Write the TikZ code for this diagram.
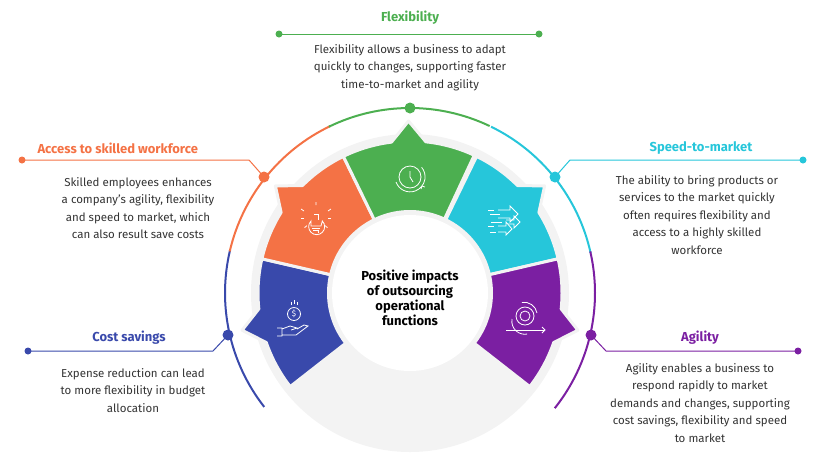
\documentclass[tikz,border=0pt]{standalone}
\usepackage{fontspec}
\setmainfont{Fira Sans}
\begin{document}
\begin{tikzpicture}[x=1pt,y=-1pt]
\definecolor{cO}{HTML}{F47245}
\definecolor{cG}{HTML}{4CAF50}
\definecolor{cC}{HTML}{26C6DA}
\definecolor{cP}{HTML}{7B1FA2}
\definecolor{cB}{HTML}{3949AB}
\definecolor{txt}{HTML}{333333}
\definecolor{bg}{HTML}{F3F3F3}
\tikzset{ttl/.style={font=\fontsize{13}{15}\selectfont\bfseries},
 desc/.style={font=\fontsize{11.5}{17.5}\selectfont,text=txt,align=center,inner sep=0},
 lead/.style={line width=1pt},
 ico/.style={draw=white,line width=0.8pt}}
\useasboundingbox (0,0) rectangle (830,467);
\begin{scope}[shift={(410,293)},y=1pt]
\fill[bg] (0,0) circle (159);
\foreach \a/\c in {218/cB,167/cO,116/cG,64/cC,13/cP}{
 \pgfmathsetmacro{\b}{\a-51}\pgfmathsetmacro{\m}{\a-25.5}
 \filldraw[fill=\c,draw=bg,line width=3pt,line join=round]
 (\a:78) -- (\a:152) arc[start angle=\a,end angle=\m+6.5,radius=152] -- (\m:172) -- (\m-6.5:152)
 arc[start angle=\m-6.5,end angle=\b,radius=152] -- (\b:78) arc[start angle=\b,end angle=\a,radius=78] -- cycle;
}
\fill[bg] (0,0) circle (83);
\fill[white] (0,0) circle (78);
\foreach \a/\c in {218/cB,167/cO,116/cG,64/cC,13/cP}{
 \draw[\c,line width=2pt] (\a:185) arc[start angle=\a,end angle=\a-51.5,radius=185];}
\end{scope}
\node[ttl,align=center] (ctr) at (410,298) {Positive impacts\\of outsourcing\\operational\\functions};
% dots
\foreach \n/\p/\c in {dG/{(410,108)}/cG,dO/{(264,177)}/cO,dC/{(555,177)}/cC,dB/{(228,335)}/cB,dP/{(591,335)}/cP}
 \fill[\c] \p circle (5.5) coordinate (\n);
% leaders
\coordinate (eO) at (22,160); \coordinate (eC) at (803,160);
\coordinate (eB) at (28,351); \coordinate (eP) at (798,351);
\coordinate (g1) at (279,34); \coordinate (g2) at (539,34);
\draw[lead,cO] (dO) -- (249,160) -- (eO); \fill[cO] (eO) circle (3.5);
\draw[lead,cC] (dC) -- (570,160) -- (eC); \fill[cC] (eC) circle (3.5);
\draw[lead,cB] (dB) -- (213,351) -- (eB); \fill[cB] (eB) circle (3.5);
\draw[lead,cP] (dP) -- (606,351) -- (eP); \fill[cP] (eP) circle (3.5);
\draw[lead,cG] (g1) -- (g2); \fill[cG] (g1) circle (3.5); \fill[cG] (g2) circle (3.5);
% texts
\node[ttl,text=cG] (tG) at (410,18) {Flexibility};
\node[desc,anchor=north] (xG) at (410,44) {Flexibility allows a business to adapt\\quickly to changes, supporting faster\\time-to-market and agility};
\node[ttl,text=cO,anchor=west] (tO) at (34,148) {Access to skilled workforce};
\node[desc,anchor=north] (xO) at (138,177) {Skilled employees enhances\\a company's agility, flexibility\\and speed to market, which\\can also result save costs};
\node[ttl,text=cC] (tC) at (701,148) {Speed-to-market};
\node[desc,anchor=north] (xC) at (697,175) {The ability to bring products or\\services to the market quickly\\often requires flexibility and\\access to a highly skilled\\workforce};
\node[ttl,text=cB] (tB) at (129,338) {Cost savings};
\node[desc,anchor=north] (xB) at (133,368) {Expense reduction can lead\\to more flexibility in budget\\allocation};
\node[ttl,text=cP] (tP) at (700,338) {Agility};
\node[desc,anchor=north] (xP) at (700,363) {Agility enables a business to\\respond rapidly to market\\demands and changes, supporting\\cost savings, flexibility and speed\\to market};
% icons
\begin{scope}[shift={(410,177)},ico]
\draw (0,0) circle (11); \draw (0,-6) -- (0,0) -- (3,5);
\draw (-14,5) arc[start angle=160,end angle=-40,radius=15]; \draw (11,12) -- (12,9) -- (15,10);
\end{scope}
\begin{scope}[shift={(316,218)},ico]
\draw (-5,8) -- (-5,3) arc[start angle=225,end angle=-45,radius=8] -- (5,8) -- cycle;
\draw (-4,10) -- (4,10) (-3,12) -- (3,12);
\foreach \r in {0,40,80,140,180}{\draw (\r:12) -- (\r:15);}
\draw (-12,-7)--(-15,-9) (0,-13)--(0,-16) (12,-7)--(15,-9);
\draw (-2,-4) -- (2,-4) -- (2,2);
\end{scope}
\begin{scope}[shift={(504,222)},ico]
\draw (-6,-12) -- (6,-12) -- (6,-16) -- (14,-8) -- (6,0) -- (6,-4) -- (-6,-4);
\draw (2,-2) -- (10,-2) -- (10,-6) -- (16,0) -- (10,6) -- (10,2) -- (4,2);
\draw (-6,4) -- (2,4) -- (2,0) -- (8,7) -- (2,13) -- (2,10) -- (-6,10);
\draw (-16,-12) -- (-10,-12) (-14,-8) -- (-4,-8) (-16,4) -- (-10,4) (-14,10) -- (-8,10) (-13,0) -- (-2,0);
\end{scope}
\begin{scope}[shift={(294,318)},ico]
\draw (0,-4) circle (6.5); \node[white,font=\fontsize{8}{8}\selectfont] (sg) at (0,-4) {\$};
\draw (-3,-13)--(-3,-16) (0,-14)--(0,-18) (3,-13)--(3,-16);
\draw (-17,10) -- (-12,10) -- (-12,18) -- (-17,18) (-12,11) -- (-4,8) -- (3,10) -- (-3,12) (-12,17) -- (2,17) -- (14,8) -- (10,7) -- (3,11);
\end{scope}
\begin{scope}[shift={(525,317)},ico]
\draw (0,-1) circle (5); \draw (0,-1) circle (9);
\draw (-13,2) arc[start angle=190,end angle=80,radius=13];
\draw (12,-4) arc[start angle=-10,end angle=-100,radius=13];
\draw (-19,13) -- (20,13); \draw (17,10) -- (20,13) -- (17,16);
\end{scope}
\end{tikzpicture}
\end{document}
